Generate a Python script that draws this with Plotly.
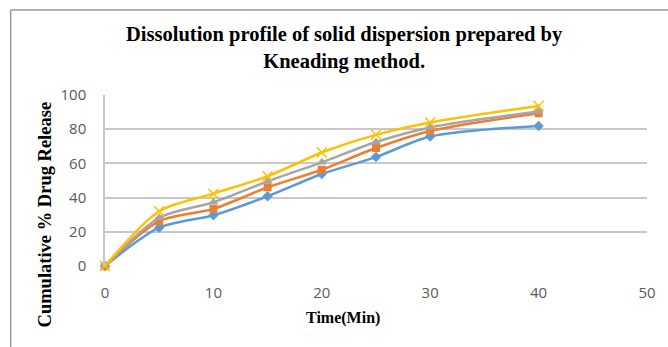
import plotly.graph_objects as go

time_min = [0, 5, 10, 15, 20, 25, 30, 40]
series_blue = [0, 22.4, 29.7, 40.8, 53.8, 63.7, 75.7, 81.9]
series_orange = [0, 26.2, 33.4, 46.0, 56.3, 69.0, 79.0, 89.3]
series_gray = [0, 28.2, 37.3, 49.5, 60.6, 72.5, 81.0, 90.3]
series_yellow = [0, 32.0, 42.3, 52.5, 66.4, 76.7, 83.9, 93.6]

x_ticks = [0, 10, 20, 30, 40, 50]
y_ticks = [0, 20, 40, 60, 80, 100]

W, H = 668, 347
L, R, T, B = 105, 17, 95, 81
pw, ph = W - L - R, H - T - B

def px_x(p):
    return (p - L) / pw

def px_y(p):
    return (H - B - p) / ph

fig = go.Figure()
styles = [
    (series_blue, "#5B9BD5", "diamond", 8, None),
    (series_orange, "#ED7D31", "square", 8, None),
    (series_gray, "#A5A5A5", "triangle-up", 9, None),
    (series_yellow, "#FFC000", "x-thin", 10, 1.5),
]
for vals, col, sym, size, lw in styles:
    marker = dict(symbol=sym, size=size, color=col)
    if lw:
        marker["line"] = dict(color=col, width=lw)
    fig.add_trace(go.Scatter(
        x=time_min, y=vals, mode="lines+markers",
        line=dict(color=col, width=2.5, shape="spline", smoothing=0.8),
        marker=marker, showlegend=False, cliponaxis=False,
    ))

fig.update_layout(
    width=W, height=H,
    margin=dict(l=L, r=R, t=T, b=B),
    plot_bgcolor="white", paper_bgcolor="white",
    xaxis=dict(range=[0, 50], tickvals=x_ticks, showgrid=False, zeroline=False,
               showline=False, ticks="", ticklabelstandoff=16,
               tickfont=dict(family="Open Sans", size=15, color="#595959")),
    yaxis=dict(range=[0, 100], tickvals=y_ticks, showgrid=True, gridcolor="#c8c8c8",
               gridwidth=1.5, zeroline=False, showline=True, linecolor="#c8c8c8",
               linewidth=1.5, ticks="", ticklabelstandoff=14,
               tickfont=dict(family="Open Sans", size=15, color="#595959")),
    shapes=[
        dict(type="line", xref="paper", yref="paper", x0=px_x(10), x1=px_x(W + 5),
             y0=px_y(10), y1=px_y(10), line=dict(color="#999999", width=1.5)),
        dict(type="line", xref="paper", yref="paper", x0=px_x(10), x1=px_x(10),
             y0=px_y(10), y1=px_y(H + 5), line=dict(color="#999999", width=1.5)),
    ],
    annotations=[
        dict(text="<b>Dissolution profile of solid dispersion prepared by<br>Kneading method.</b>",
             xref="paper", yref="paper", x=px_x(346), y=px_y(48), showarrow=False,
             font=dict(family="Liberation Serif", size=20.5, color="black"),
             xanchor="center", yanchor="middle", align="center"),
        dict(text="<b>Time(Min)</b>", xref="paper", yref="paper", x=px_x(345), y=px_y(318),
             showarrow=False, font=dict(family="Liberation Serif", size=16, color="black"),
             xanchor="center", yanchor="middle"),
        dict(text="<b>Cumulative % Drug Release</b>", xref="paper", yref="paper",
             x=px_x(45), y=px_y(214), showarrow=False, textangle=-90,
             font=dict(family="Liberation Serif", size=18.5, color="black"),
             xanchor="center", yanchor="middle"),
    ],
)

fig.write_html("out.html")
